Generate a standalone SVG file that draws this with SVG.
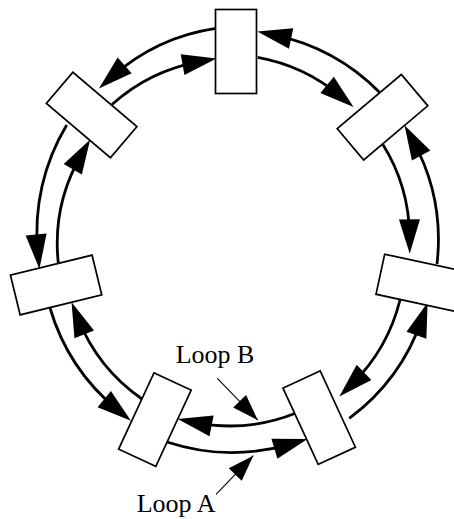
<svg xmlns="http://www.w3.org/2000/svg" width="454" height="519" viewBox="0 0 454 519">
  <defs>
    <style>
      .box { fill: #fff; stroke: #000; stroke-width: 1.7; }
      .arc { fill: none; stroke: #000; stroke-width: 2.8; marker-end: url(#head); }
      .ptr { fill: none; stroke: #000; stroke-width: 1.1; marker-end: url(#ptrhead); }
      .lbl { font-family: "Liberation Serif", "Times New Roman", serif; font-size: 26px; fill: #000; }
    </style>
    <!-- large arc head: centred on the path end so it follows the chord -->
    <marker id="head" markerUnits="userSpaceOnUse" orient="auto" viewBox="-20 -12 40 24" markerWidth="40" markerHeight="24" refX="0" refY="0">
      <path d="M17,0 L-17.5,-10.5 L-17.5,10.5 Z" fill="#000"/>
    </marker>
    <!-- small head for the label pointers -->
    <marker id="ptrhead" markerUnits="userSpaceOnUse" orient="auto" viewBox="-30 -10 32 20" markerWidth="32" markerHeight="20" refX="0" refY="0">
      <path d="M0,0 L-26,-9 L-26,9 Z" fill="#000"/>
    </marker>
  </defs>

  <rect width="454" height="519" fill="#fff"/>

  <g id="connectors">
    <!-- Loop B: inner ring, clockwise -->
    <path class="arc" d="M257.7,57.3 A178,178 0 0 1 340.5,96.1"/>
    <path class="arc" d="M382,143 A178,178 0 0 1 409.6,236.8"/>
    <path class="arc" d="M400,300 A178,178 0 0 1 351.5,384.6"/>
    <path class="arc" d="M296,413 A178,178 0 0 1 194.4,422.4"/>
    <path class="arc" d="M142,399 A178,178 0 0 1 77.8,318"/>
    <path class="arc" d="M58.3,263 A178,178 0 0 1 81.6,154.2"/>
    <path class="arc" d="M112,104.5 A178,178 0 0 1 199.8,61.6"/>
    <!-- Loop A: outer ring, counter-clockwise -->
    <path class="arc" d="M379.7,92.5 A208,208 0 0 0 274,34.9"/>
    <path class="arc" d="M437,264 A208,208 0 0 0 412.7,140.1"/>
    <path class="arc" d="M349.3,418.3 A208,208 0 0 0 422.1,318.7"/>
    <path class="arc" d="M167,442 A208,208 0 0 0 291.2,443.8"/>
    <path class="arc" d="M50,308 A208,208 0 0 0 117.8,410.1"/>
    <path class="arc" d="M66.7,125 A208,208 0 0 0 37.8,252"/>
    <path class="arc" d="M216,28.3 A200,200 0 0 0 111.6,77.1"/>
    <!-- label pointers -->
    <path class="ptr" d="M217.3,378.3 L257.7,420"/>
    <path class="ptr" d="M216,494.3 L253.3,455.7"/>
  </g>

  <g id="node-top"><rect class="box" x="-20.5" y="-42" width="41" height="84" transform="translate(236,51.5)"/></g>
  <g id="node-upper-right"><rect class="box" x="-20.5" y="-42" width="41" height="84" transform="translate(382.5,117.2) rotate(49.8)"/></g>
  <g id="node-right"><rect class="box" x="-20.5" y="-42" width="41" height="84" transform="translate(421.4,283.1) rotate(102.2)"/></g>
  <g id="node-lower-right"><rect class="box" x="-20.5" y="-42" width="41" height="84" transform="translate(319.2,417.7) rotate(155.2)"/></g>
  <g id="node-lower-left"><rect class="box" x="-20.5" y="-42" width="41" height="84" transform="translate(154.9,419.6) rotate(204.9)"/></g>
  <g id="node-left"><rect class="box" x="-20.5" y="-42" width="41" height="84" transform="translate(56.1,285) rotate(256.3)"/></g>
  <g id="node-upper-left"><rect class="box" x="-20.5" y="-42" width="41" height="84" transform="translate(91.65,115) rotate(-49.7)"/></g>

  <g id="labels">
    <text class="lbl" x="175.7" y="363.3">Loop B</text>
    <text class="lbl" x="136.7" y="511.7">Loop A</text>
  </g>
</svg>
